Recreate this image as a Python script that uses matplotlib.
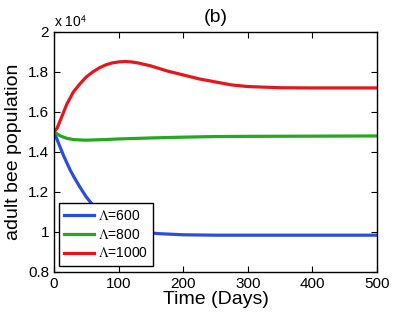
import numpy as np
import matplotlib.pyplot as plt
from matplotlib.ticker import FuncFormatter

plt.rcParams['font.family'] = ['Liberation Sans', 'DejaVu Sans']
plt.rcParams['mathtext.fontset'] = 'stix'

# values (population, days)
t_red = [0, 5, 10, 20, 30, 40, 50, 60, 70, 80, 90, 100, 110, 120, 130, 150,
         175, 200, 225, 250, 275, 300, 350, 400, 500]
red = [1.50, 1.52, 1.56, 1.64, 1.70, 1.74, 1.775, 1.80, 1.82, 1.835, 1.845,
       1.85, 1.852, 1.85, 1.845, 1.83, 1.805, 1.785, 1.765, 1.75, 1.735,
       1.727, 1.721, 1.72, 1.72]

t_green = [0, 10, 20, 30, 40, 50, 60, 80, 100, 150, 200, 250, 300, 400, 500]
green = [1.50, 1.48, 1.468, 1.462, 1.46, 1.459, 1.46, 1.462, 1.465, 1.47,
         1.474, 1.477, 1.478, 1.479, 1.48]

t_blue = [0, 5, 10, 15, 20, 25, 30, 40, 50, 60, 70, 80, 90, 100, 120, 140,
          160, 200, 250, 300, 500]
blue = [1.50, 1.46, 1.42, 1.38, 1.345, 1.31, 1.28, 1.225, 1.175, 1.135, 1.10,
        1.07, 1.05, 1.035, 1.012, 1.0, 0.992, 0.986, 0.984, 0.984, 0.984]

labels = ['$\\Lambda$=600', '$\\Lambda$=800', '$\\Lambda$=1000']

fig = plt.figure(figsize=(4.17, 3.13), dpi=100)
ax = fig.add_axes([0.1295, 0.131, 0.7745, 0.767])

ax.plot(t_blue, np.array(blue) * 1e4, color='#2a4de0', lw=2.3, label=labels[0])
ax.plot(t_green, np.array(green) * 1e4, color='#25a820', lw=2.3, label=labels[1])
ax.plot(t_red, np.array(red) * 1e4, color='#e8161c', lw=2.3, label=labels[2])

ax.set_xlim(0, 500)
ax.set_ylim(8000, 20000)
ax.set_xticks(range(0, 501, 100))
ax.set_yticks(np.arange(8000, 20001, 2000))
ax.yaxis.set_major_formatter(FuncFormatter(lambda v, p: '%g' % (v / 1e4)))
ax.tick_params(direction='in', top=True, right=True, labelsize=11, length=4)
for s in ax.spines.values():
    s.set_linewidth(1)

ax.set_xlabel('Time (Days)', fontsize=14, labelpad=0)
ax.set_ylabel('adult bee population', fontsize=14, labelpad=4)
ax.set_title('(b)', fontsize=14, pad=7)
ax.text(0.0, 1.01, 'x 10$^{\\mathsf{4}}$', transform=ax.transAxes, fontsize=10,
        ha='left', va='bottom')

leg = ax.legend(loc='lower left', bbox_to_anchor=(0.015, 0.025), borderaxespad=0,
                fontsize=10, handlelength=2.1, handletextpad=0.3, fancybox=False,
                framealpha=1, edgecolor='black', labelspacing=0.35)
leg.get_frame().set_linewidth(1)

fig.savefig('out.png', dpi=100)
